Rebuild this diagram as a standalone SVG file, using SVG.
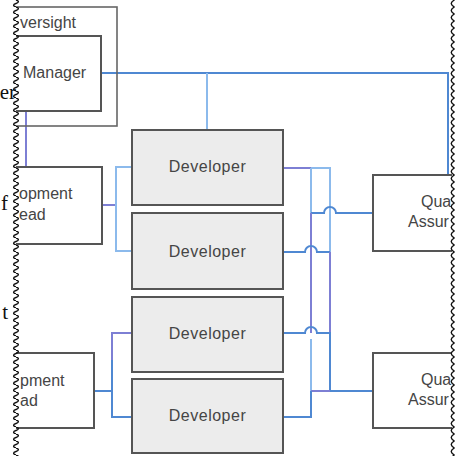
<svg xmlns="http://www.w3.org/2000/svg" width="461" height="456" viewBox="0 0 461 456">
<style>
  .box{fill:#ffffff;stroke:#555;stroke-width:2}
  .dev{fill:#ececec;stroke:#555;stroke-width:2}
  .outer{fill:none;stroke:#666;stroke-width:1.6}
  .lbl{font-family:"Liberation Sans",Arial,sans-serif;font-size:16px;fill:#454545}
  .dlbl{font-family:"Liberation Sans",Arial,sans-serif;font-size:16px;fill:#454545;text-anchor:middle;letter-spacing:0.5px}
  .ser{font-family:"Liberation Serif","Times New Roman",serif;font-size:21px;fill:#111}
  .c{fill:none;stroke-width:2}
  .lb{stroke:#8cbaec}
  .mb{stroke:#4f88d2}
  .pu{stroke:#7d7fd4}
</style>
<defs>
  <pattern id="waveL" x="12" y="0" width="8" height="7" patternUnits="userSpaceOnUse">
    <path d="M4,0 C7.2,1 7.2,2.5 4,3.5 C0.8,4.5 0.8,6 4,7" fill="none" stroke="#111" stroke-width="1.4"/>
  </pattern>
  <pattern id="waveR" x="448" y="0" width="8" height="7" patternUnits="userSpaceOnUse">
    <path d="M6.5,0 Q0,3.5 6.5,7" fill="none" stroke="#111" stroke-width="1.4"/>
  </pattern>
</defs>
<rect width="461" height="456" fill="#ffffff"/>

<g id="connectors">
  <path class="c mb" d="M101,73 H448 V175"/>
  <path class="c lb" d="M207,73 V130"/>
  <path class="c pu" d="M26,111 V167"/>
  <path class="c pu" d="M102,205 H116"/>
  <path class="c lb" d="M132,167 H116 V251 H132"/>
  <path class="c mb" d="M94,391 H112"/>
  <path class="c pu" d="M132,333 H112 V360"/>
  <path class="c mb" d="M112,360 V417 H132"/>
  <path class="c lb" d="M283,168 H330 V252"/>
  <path class="c pu" d="M283,168 H311"/>
  <path class="c lb" d="M311,168 V213"/>
  <path class="c mb" d="M311,213 H324 A6,6 0 0 1 336,213 H373"/>
  <path class="c pu" d="M311,213 V333"/>
  <path class="c mb" d="M283,252 H305 A6,6 0 0 1 317,252 H330"/>
  <path class="c pu" d="M330,252 V333"/>
  <path class="c mb" d="M283,333 H305 A6,6 0 0 1 317,333 H330 V391 H373"/>
  <path class="c lb" d="M311,339 V391"/>
  <path class="c pu" d="M311,391 H330"/>
  <path class="c mb" d="M283,417 H311 V391"/>
</g>

<g id="oversight">
  <rect class="outer" x="5" y="7" width="112" height="119"/>
  <text class="lbl" x="20" y="28">versight</text>
</g>
<g id="manager">
  <rect class="box" x="5" y="36" width="96" height="75"/>
  <text class="lbl" x="23" y="78">Manager</text>
</g>
<g id="lead1">
  <rect class="box" x="5" y="167" width="97" height="77"/>
  <text class="lbl" x="19" y="199">opment</text>
  <text class="lbl" x="19" y="220">ead</text>
</g>
<g id="lead2">
  <rect class="box" x="5" y="353" width="89" height="75"/>
  <text class="lbl" x="20" y="386">pment</text>
  <text class="lbl" x="20" y="406">ad</text>
</g>
<g id="dev1">
  <rect class="dev" x="132" y="130" width="151" height="75"/>
  <text class="dlbl" x="207.5" y="172">Developer</text>
</g>
<g id="dev2">
  <rect class="dev" x="132" y="213" width="151" height="76"/>
  <text class="dlbl" x="207.5" y="257">Developer</text>
</g>
<g id="dev3">
  <rect class="dev" x="132" y="297" width="151" height="75"/>
  <text class="dlbl" x="207.5" y="339">Developer</text>
</g>
<g id="dev4">
  <rect class="dev" x="132" y="379" width="151" height="74"/>
  <text class="dlbl" x="207.5" y="421">Developer</text>
</g>
<g id="qa1">
  <rect class="box" x="373" y="175" width="100" height="76"/>
  <text class="lbl" x="421" y="207">Qua</text>
  <text class="lbl" x="408" y="227">Assur</text>
</g>
<g id="qa2">
  <rect class="box" x="373" y="353" width="100" height="75"/>
  <text class="lbl" x="421" y="385">Qua</text>
  <text class="lbl" x="408" y="405">Assur</text>
</g>

<rect x="0" y="0" width="16" height="456" fill="#ffffff"/>
<rect x="452" y="0" width="9" height="456" fill="#ffffff"/>
<rect x="12" y="0" width="8" height="456" fill="url(#waveL)"/>
<rect x="448" y="0" width="8" height="456" fill="url(#waveR)"/>
<text class="ser" x="16" y="99" text-anchor="end">er</text>
<text class="ser" x="8" y="210" text-anchor="end">f</text>
<text class="ser" x="8" y="319" text-anchor="end">t</text>
</svg>
